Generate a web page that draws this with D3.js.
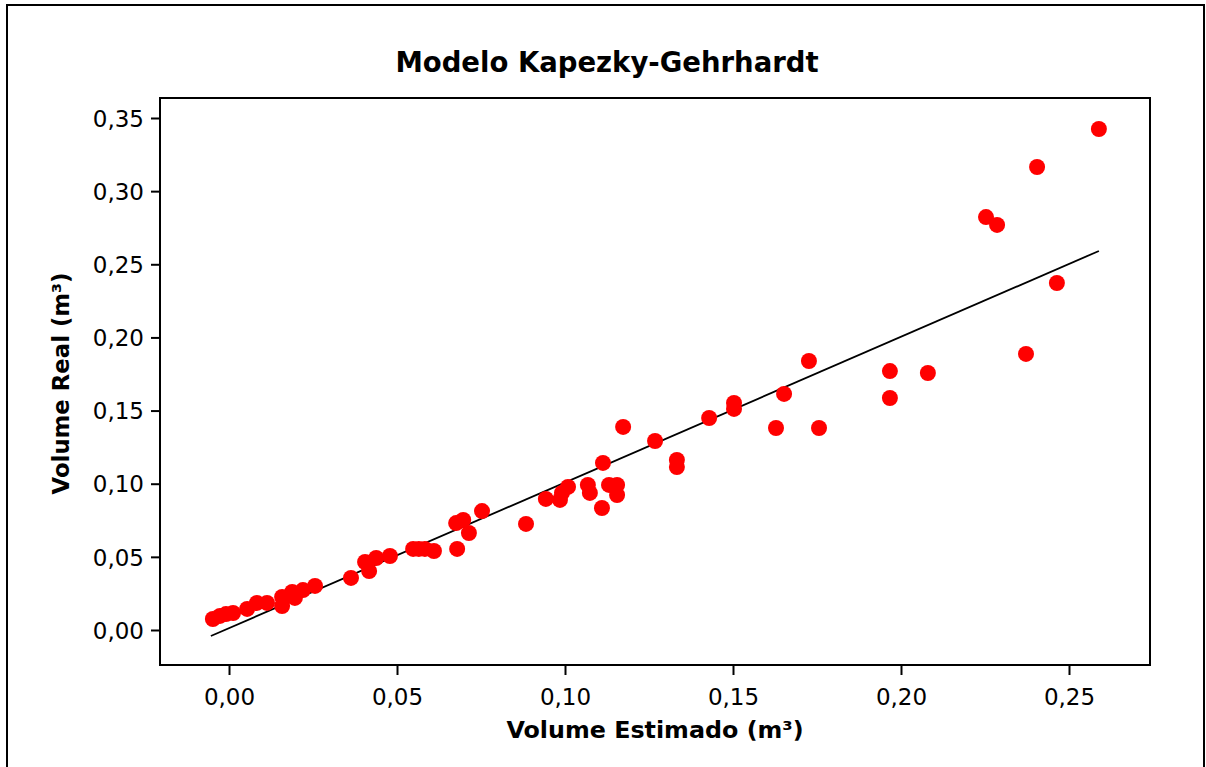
<!DOCTYPE html>
<html><head><meta charset="utf-8">
<script src="https://cdn.jsdelivr.net/npm/d3@7"></script>
<style>body{margin:0;background:#fff}svg{display:block}</style>
</head><body>
<script>
const chartTitle = "Modelo Kapezky-Gehrhardt";
const xTitle = "Volume Estimado (m³)";
const yTitle = "Volume Real (m³)";
const xTicks = [0, 0.05, 0.10, 0.15, 0.20, 0.25];
const yTicks = [0, 0.05, 0.10, 0.15, 0.20, 0.25, 0.30, 0.35];
const estimado = [-0.0048,-0.0027,-0.0009,0.0012,0.0054,0.0083,0.0113,0.0158,0.0158,0.0188,0.0196,0.0220,0.0256,
 0.0363,0.0405,0.0417,0.0438,0.0479,0.0548,0.0565,0.0583,0.0610,0.0679,0.0676,0.0697,0.0714,0.0753,
 0.0884,0.0943,0.0985,0.0991,0.1009,0.1068,0.1074,0.1110,0.1113,0.1131,0.1155,0.1155,0.1173,0.1268,
 0.1333,0.1333,0.1429,0.1503,0.1503,0.1628,0.1652,0.1726,0.1756,0.1967,0.1967,0.2080,0.2253,0.2286,
 0.2405,0.2464,0.2372,0.2589];
const real = [0.0075,0.0096,0.0109,0.0116,0.0144,0.0185,0.0185,0.0226,0.0164,0.0260,0.0219,0.0273,0.0301,
 0.0356,0.0465,0.0403,0.0492,0.0506,0.0554,0.0554,0.0554,0.0540,0.0554,0.0731,0.0752,0.0663,0.0813,
 0.0725,0.0896,0.0889,0.0937,0.0978,0.0992,0.0937,0.0834,0.1142,0.0992,0.0992,0.0923,0.1388,0.1292,
 0.1162,0.1114,0.1449,0.1552,0.1511,0.1381,0.1614,0.1839,0.1381,0.1770,0.1586,0.1757,0.2823,0.2769,
 0.3165,0.2372,0.1887,0.3425];
const fitX = [-0.0054, 0.2589];
const fitY = [-0.0041, 0.2591];

const W = 1206, H = 767;
const plot = {l:160, r:1150, t:98, b:665};
const x = d3.scaleLinear().domain([-0.02054, 0.27411]).range([plot.l, plot.r]);
const y = d3.scaleLinear().domain([-0.02393, 0.36367]).range([plot.b, plot.t]);
const fmt = d => d3.format(".2f")(d).replace(".", ",");
const font = "Tahoma, 'DejaVu Sans', Verdana, sans-serif";

const svg = d3.select("body").append("svg").attr("width", W).attr("height", H);
svg.append("rect").attr("width", W).attr("height", H).attr("fill", "#fff");
// outer frame
svg.append("path").attr("d", `M7,${H} V5 H1204 V${H}`).attr("fill","none").attr("stroke","#000").attr("stroke-width",2);

// plot box
svg.append("rect").attr("x", plot.l).attr("y", plot.t).attr("width", plot.r-plot.l).attr("height", plot.b-plot.t)
  .attr("fill","none").attr("stroke","#000").attr("stroke-width",2);

const xAxis = svg.append("g").attr("transform", `translate(0,${plot.b})`)
  .call(d3.axisBottom(x).tickValues(xTicks).tickFormat(fmt).tickSize(10).tickPadding(10));
const yAxis = svg.append("g").attr("transform", `translate(${plot.l},0)`)
  .call(d3.axisLeft(y).tickValues(yTicks).tickFormat(fmt).tickSize(9).tickPadding(7));
[xAxis, yAxis].forEach(a => {
  a.select(".domain").remove();
  a.selectAll(".tick line").attr("stroke","#000").attr("stroke-width",2);
  a.selectAll(".tick text").attr("fill","#000").style("font-family", font).style("font-size","23px");
});
xAxis.selectAll(".tick text").attr("dy","0.85em");
yAxis.selectAll(".tick text").attr("dy","0.36em");

// fit line
svg.append("line").attr("x1", x(fitX[0])).attr("y1", y(fitY[0])).attr("x2", x(fitX[1])).attr("y2", y(fitY[1]))
  .attr("stroke","#000").attr("stroke-width",1.8);

// points
svg.append("g").selectAll("circle").data(estimado.map((e,i)=>[e, real[i]])).join("circle")
  .attr("cx", d=>x(d[0])).attr("cy", d=>y(d[1])).attr("r", 8).attr("fill","#ff0000");

svg.append("text").attr("x", 607).attr("y", 72).attr("text-anchor","middle")
  .style("font-family", font).style("font-weight","bold").style("font-size","27.5px").text(chartTitle);
svg.append("text").attr("x", (plot.l+plot.r)/2).attr("y", 738).attr("text-anchor","middle")
  .style("font-family", font).style("font-weight","bold").style("font-size","23.8px").text(xTitle);
svg.append("text").attr("transform", `translate(69,${(plot.t+plot.b)/2+2}) rotate(-90)`).attr("text-anchor","middle")
  .style("font-family", font).style("font-weight","bold").style("font-size","22.8px").text(yTitle);
</script>
</body></html>
